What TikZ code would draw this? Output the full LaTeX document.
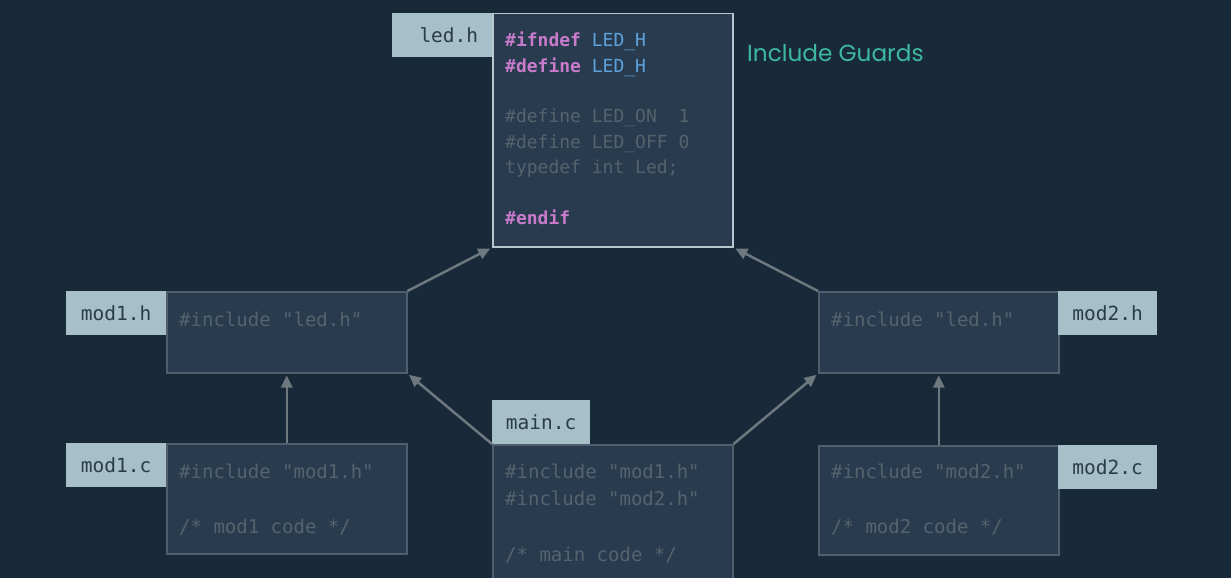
\documentclass[tikz,border=0pt]{standalone}
\usepackage{fontspec}
\setmonofont{DejaVu Sans Mono}
\newfontfamily\guardfont{Poppins}
\usetikzlibrary{arrows.meta}
\definecolor{bg}{HTML}{182939}
\definecolor{boxfill}{HTML}{293B4E}
\definecolor{boxline}{HTML}{4F5F6D}
\definecolor{ledline}{HTML}{B8C6CE}
\definecolor{tagfill}{HTML}{A6BFC8}
\definecolor{tagtext}{HTML}{2A3B49}
\definecolor{codegray}{HTML}{55636E}
\definecolor{kw}{HTML}{C87ACB}
\definecolor{macro}{HTML}{5DA3DD}
\definecolor{guard}{HTML}{3DB9A2}
\definecolor{arrowc}{HTML}{6E787F}
\begin{document}
\begin{tikzpicture}[x=1pt,y=-1pt,
  codebox/.style={draw=boxline, fill=boxfill, line width=1.5pt, rectangle, inner sep=0pt, anchor=north west, minimum width=240pt},
  tag/.style={fill=tagfill, text=tagtext, inner sep=0pt, anchor=north west, minimum height=44pt, font=\ttfamily\fontsize{19.5}{20}\selectfont},
  code/.style={anchor=base west, inner sep=0pt, text=codegray, font=\ttfamily\fontsize{19}{19}\selectfont},
  ledcode/.style={code, font=\ttfamily\fontsize{18}{18}\selectfont},
  conn/.style={draw=arrowc, line width=2.5pt, -{Triangle[length=12pt,width=11pt]}, shorten >=2pt}
]
\useasboundingbox (0,0) rectangle (1231,578);
\clip (0,0) rectangle (1231,578);
\fill[bg] (0,0) rectangle (1231,578);

% boxes
\node[codebox, draw=ledline, minimum height=233pt] (ledbox) at (492,13) {};
\node[codebox, minimum height=81pt] (mod1h) at (166,291) {};
\node[codebox, minimum height=110pt] (mod1c) at (166,443) {};
\node[codebox, minimum height=160pt] (mainc) at (492,444) {};
\node[codebox, minimum height=81pt] (mod2h) at (818,291) {};
\node[codebox, minimum height=109pt] (mod2c) at (818,445) {};

% tags
\node[tag, minimum width=100pt, text width=72pt, align=right] (tagled) at (392,13) {led.h};
\node[tag, minimum width=100pt] (tagmod1h) at (66,291) {mod1.h};
\node[tag, minimum width=100pt] (tagmod1c) at (66,443) {mod1.c};
\node[tag, minimum width=98pt] (tagmain) at (492,400) {main.c};
\node[tag, minimum width=99pt] (tagmod2h) at (1058,291) {mod2.h};
\node[tag, minimum width=99pt] (tagmod2c) at (1058,445) {mod2.c};

% led.h code
\node[ledcode] (l1) at (505,46.5) {\textcolor{kw}{\bfseries\#ifndef} \textcolor{macro}{LED\_H}};
\node[ledcode] (l2) at (505,72) {\textcolor{kw}{\bfseries\#define} \textcolor{macro}{LED\_H}};
\node[ledcode] (l3) at (505,122.5) {\#define LED\_ON\ \ 1};
\node[ledcode] (l4) at (505,148) {\#define LED\_OFF 0};
\node[ledcode] (l5) at (505,173) {typedef int Led;};
\node[ledcode] (l6) at (505,224) {\textcolor{kw}{\bfseries\#endif}};

% other code
\node[code] (m1h) at (179,326) {\#include "led.h"};
\node[code] (m1c1) at (179,478) {\#include "mod1.h"};
\node[code] (m1c2) at (179,533) {/* mod1 code */};
\node[code] (mc1) at (505,478) {\#include "mod1.h"};
\node[code] (mc2) at (505,505) {\#include "mod2.h"};
\node[code] (mc3) at (505,561) {/* main code */};
\node[code] (m2h) at (831,326) {\#include "led.h"};
\node[code] (m2c1) at (831,478) {\#include "mod2.h"};
\node[code] (m2c2) at (831,533) {/* mod2 code */};

% title
\node[anchor=west, inner sep=0pt, text=guard, font=\guardfont\fontsize{23.2}{23}\selectfont] (guards) at (747,53) {Include Guards};

% connectors
\draw[conn] (mod1h.north east) -- (ledbox.south west);
\draw[conn] (mod2h.north west) -- (ledbox.south east);
\draw[conn] (mod1c.north) -- (mod1h.south);
\draw[conn] (mod2c.north) -- (mod2h.south);
\draw[conn] (mainc.north west) -- (mod1h.south east);
\draw[conn] (mainc.north east) -- (mod2h.south west);
\end{tikzpicture}
\end{document}
